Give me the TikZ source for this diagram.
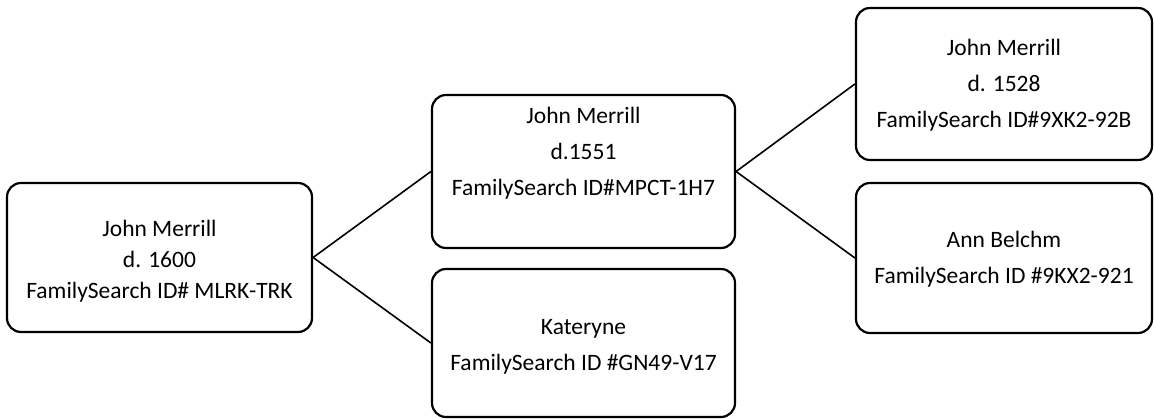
\documentclass[tikz,border=0pt]{standalone}
\usepackage{fontspec}
\setmainfont{Carlito}
\begin{document}
\begin{tikzpicture}[x=1pt,y=-1pt,
  person/.style={draw=black,line width=2.2pt,rounded corners=14pt,fill=white,inner sep=0pt},
  txt/.style={align=center,font=\fontsize{23.5}{36}\selectfont,inner sep=0pt},
  link/.style={draw=black,line width=1.6pt}]
\useasboundingbox[fill=white] (0,0) rectangle (1154,419);
\node[person,minimum width=305pt,minimum height=149pt] (a) at (159.5,257.5) {};
\node[person,minimum width=303pt,minimum height=153pt] (b) at (583.5,171.5) {};
\node[person,minimum width=303pt,minimum height=148pt] (c) at (583.5,343) {};
\node[person,minimum width=296pt,minimum height=152pt] (d) at (1004,84) {};
\node[person,minimum width=296pt,minimum height=150pt] (e) at (1004,258) {};
\draw[link] (a.east) -- (b.west);
\draw[link] (a.east) -- (c.west);
\draw[link] (b.east) -- (d.west);
\draw[link] (b.east) -- (e.west);
\node[txt,font=\fontsize{23.5}{31}\selectfont] (ta) at (159.5,261) {John Merrill\\d. 1600\\FamilySearch ID\# MLRK-TRK};
\node[txt] (tb) at (583.5,153) {John Merrill\\d.1551\\FamilySearch ID\#MPCT-1H7};
\node[txt] (tc) at (583.5,346.5) {Kateryne\\FamilySearch ID \#GN49-V17};
\node[txt] (td) at (1004,85) {John Merrill\\d. 1528\\FamilySearch ID\#9XK2-92B};
\node[txt] (te) at (1004,259.5) {Ann Belchm\\FamilySearch ID \#9KX2-921};
\end{tikzpicture}
\end{document}
